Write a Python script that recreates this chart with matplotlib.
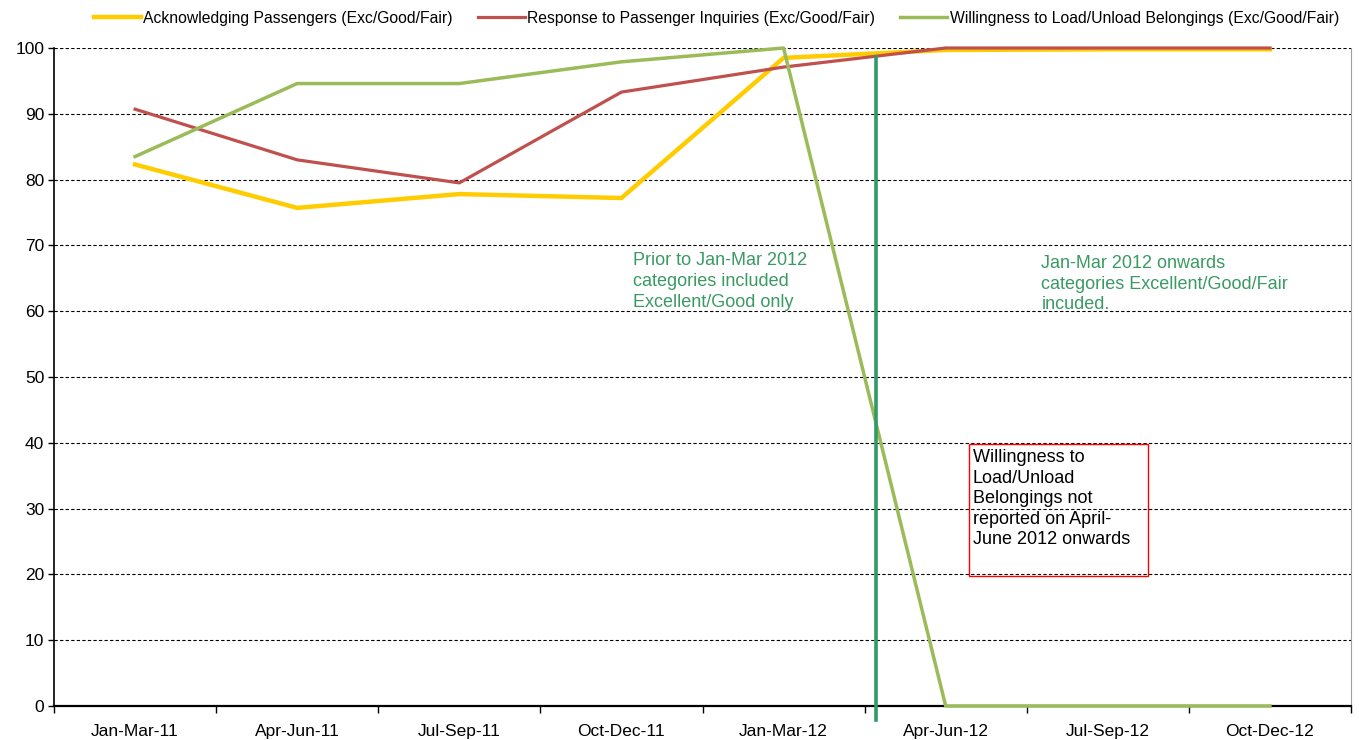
import numpy as np
import matplotlib.pyplot as plt
from matplotlib.patches import Rectangle

quarters = ['Jan-Mar-11', 'Apr-Jun-11', 'Jul-Sep-11', 'Oct-Dec-11',
            'Jan-Mar-12', 'Apr-Jun-12', 'Jul-Sep-12', 'Oct-Dec-12']
acknowledging = [82.3, 75.7, 77.8, 77.2, 98.5, 99.7, 99.8, 99.8]
response = [90.7, 83.0, 79.5, 93.3, 97.1, 100, 100, 100]
willingness = [83.5, 94.6, 94.6, 97.9, 100, 0, 0, 0]
series_names = ['Acknowledging Passengers (Exc/Good/Fair)',
                'Response to Passenger Inquiries (Exc/Good/Fair)',
                'Willingness to Load/Unload Belongings (Exc/Good/Fair)']
y_ticks = list(range(0, 101, 10))

plt.rcParams['font.family'] = ['Liberation Sans', 'DejaVu Sans']

fig = plt.figure(figsize=(13.59, 7.40), dpi=100)
ax = fig.add_axes([54 / 1359, 1 - 706 / 740, 1297 / 1359, 658 / 740])

x = np.arange(len(quarters))
l1, = ax.plot(x, acknowledging, color='#ffcc00', lw=3.2, label=series_names[0],
              clip_on=False, zorder=3)
l2, = ax.plot(x, response, color='#c0504d', lw=2.3, label=series_names[1],
              clip_on=False, zorder=3)
l3, = ax.plot(x, willingness, color='#9bbb59', lw=2.5, label=series_names[2],
              clip_on=False, zorder=3)

# divider between old / new categories
ax.plot([4.57, 4.57], [-2.2, 98.6], color='#339966', lw=2.6, clip_on=False, zorder=5)

ax.set_xlim(-0.5, 7.5)
ax.set_ylim(0, 100)
ax.set_yticks(y_ticks)
ax.set_xticks(x)
ax.set_xticklabels(quarters)
ax.set_xticks(np.arange(-0.5, 8, 1), minor=True)
ax.tick_params(axis='x', which='major', length=0, pad=13, labelsize=12.5)
ax.tick_params(axis='x', which='minor', length=5, width=1, direction='out')
ax.tick_params(axis='y', length=4, width=1, labelsize=12.5, pad=3)
ax.yaxis.grid(True, linestyle=(0, (3, 2)), color='black', lw=0.8)
ax.set_axisbelow(True)
ax.spines['top'].set_visible(False)
ax.spines['right'].set_color('#a0a0a0')
ax.spines['left'].set_linewidth(1.2)
ax.spines['bottom'].set_linewidth(1.6)

green_txt = '#3a9a63'
ax.text(3.074, 69.0, 'Prior to Jan-Mar 2012\ncategories included\nExcellent/Good only',
        color=green_txt, fontsize=13, va='top', ha='left', linespacing=1.3)
ax.text(5.59, 68.6, 'Jan-Mar 2012 onwards\ncategories Excellent/Good/Fair\nincuded.',
        color=green_txt, fontsize=13, va='top', ha='left', linespacing=1.3)
ax.add_patch(Rectangle((5.142, 19.8), 1.105, 20.0, fill=False, ec='red', lw=1.0, zorder=4))
ax.text(5.167, 39.0, 'Willingness to\nLoad/Unload\nBelongings not\nreported on April-\nJune 2012 onwards',
        color='black', fontsize=13, va='top', ha='left', linespacing=1.27, zorder=4)

fig.legend(handles=[l1, l2, l3], loc='center', bbox_to_anchor=(0.527, 1 - 18 / 740),
           ncol=3, frameon=False, fontsize=11.3, handlelength=3.0, handletextpad=0.15,
           columnspacing=1.6)

fig.savefig('out.png', dpi=100)
